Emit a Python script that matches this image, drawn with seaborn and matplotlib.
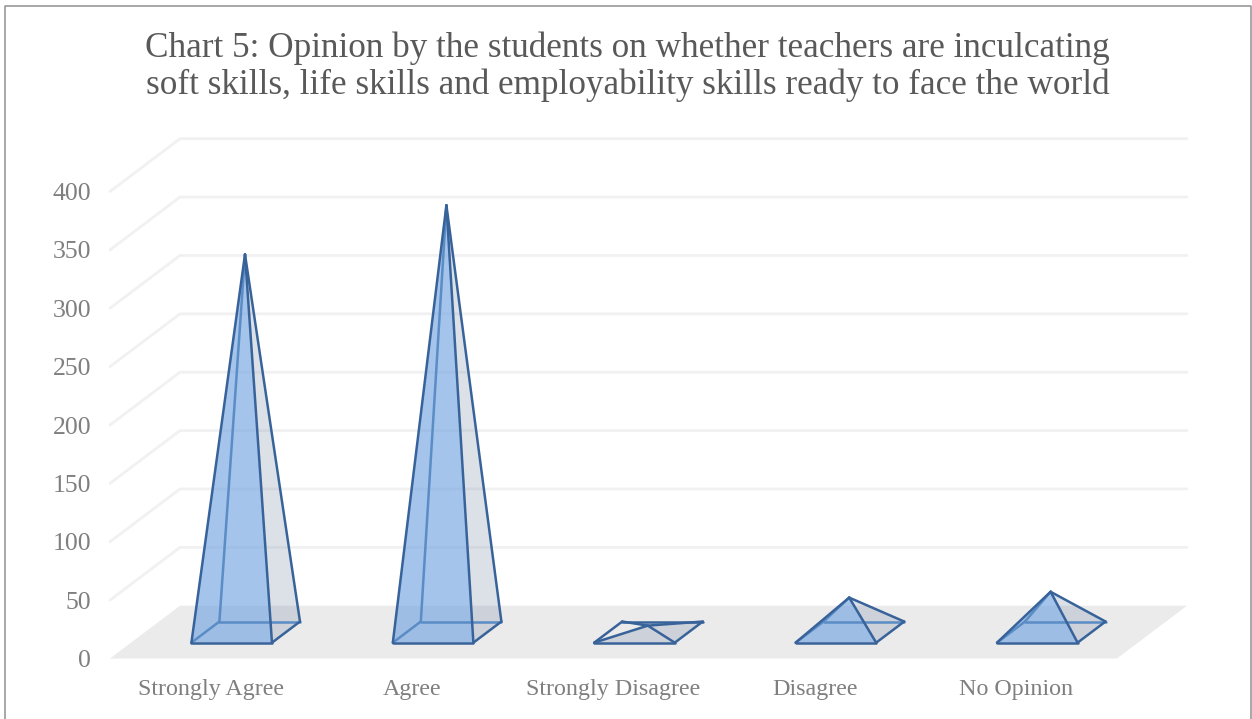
import pandas as pd
import matplotlib.pyplot as plt
import seaborn as sns
from matplotlib.lines import Line2D

# Values
categories = ['Strongly Agree', 'Agree', 'Strongly Disagree', 'Disagree', 'No Opinion']
students = [324, 366, 6, 30, 35]
value_ticks = [0, 50, 100, 150, 200, 250, 300, 350, 400]

title_text = ('Chart 5: Opinion by the students on whether teachers are inculcating\n'
              'soft skills, life skills and employability skills ready to face the world')

# Depth of the fake 3D box, in category and value units
DEPTH_X = 70 / 201.4
DEPTH_Y = 52.8 / 1.1675
HALF_WIDTH = 0.2
FRONT, MIDDLE, BACK = 0.3, 0.49, 0.7


def project(cat, depth, value):
    return cat + depth * DEPTH_X, value + depth * DEPTH_Y


sns.set_theme(style='white')
plt.rcParams['font.family'] = ['Liberation Serif', 'DejaVu Sans']

fig = plt.figure(figsize=(12.52, 7.19), dpi=100)
ax = fig.add_axes([110 / 1252, 1 - 658.5 / 719, 1007 / 1252, 467 / 719])

# Floor
n = len(categories)
floor = [project(-0.5, 0, 0), project(n - 0.5, 0, 0), project(n - 0.5, 1, 0), project(-0.5, 1, 0)]
ax.fill(*zip(*floor), color='#ebebeb', lw=0, zorder=1, clip_on=False)

# Grid lines: side wall then back wall
grid_rows = []
for v in value_ticks[1:]:
    for x, y in [project(-0.5, 0, v), project(-0.5, 1, v), project(n - 0.5, 1, v)]:
        grid_rows.append({'x': x, 'y': y, 'tick': v})
grid = pd.DataFrame(grid_rows)
sns.lineplot(data=grid, x='x', y='y', units='tick', estimator=None, sort=False,
             color='#f1f1f1', linewidth=2.0, zorder=2, ax=ax)

# Pyramids
edge_rows = []
edge_id = 0
for i, v in enumerate(students):
    fl = project(i - HALF_WIDTH, FRONT, 0)
    fr = project(i + HALF_WIDTH, FRONT, 0)
    bl = project(i - HALF_WIDTH, BACK, 0)
    br = project(i + HALF_WIDTH, BACK, 0)
    apex = project(i, MIDDLE, v)
    flat = v < 10

    # right face, then the front face; the flat one looks grey instead of blue
    ax.fill(*zip(fr, br, apex), color='#64789a', alpha=0.22, lw=0, zorder=3, clip_on=False)
    if flat:
        ax.fill(*zip(fl, fr, apex), color='#64789a', alpha=0.22, lw=0, zorder=3, clip_on=False)
    else:
        ax.fill(*zip(fl, fr, apex), color='#76a6e1', alpha=0.66, lw=0, zorder=4, clip_on=False)

    inner = 'outer' if flat else 'hidden'
    for kind, pts in [(inner, [fl, bl]), (inner, [bl, apex]), (inner, [bl, br]),
                      ('outer', [fl, fr]), ('outer', [fr, br]), ('outer', [fl, apex]),
                      ('outer', [fr, apex]), ('outer', [br, apex])]:
        for x, y in pts:
            edge_rows.append({'x': x, 'y': y, 'edge': edge_id, 'kind': kind})
        edge_id += 1

edges = pd.DataFrame(edge_rows)
sns.lineplot(data=edges, x='x', y='y', hue='kind', units='edge', estimator=None, sort=False,
             hue_order=['hidden', 'outer'], palette={'hidden': '#5a8cc6', 'outer': '#38639a'},
             linewidth=1.8, legend=False, zorder=5, ax=ax)

for line in ax.lines:
    line.set_clip_on(False)

ax.set_xlim(-0.5, n - 0.5)
ax.set_ylim(0, 400)
ax.set_xlabel('')
ax.set_ylabel('')
ax.set_xticks(range(n))
ax.set_xticklabels(categories)
ax.set_yticks(value_ticks)
ax.tick_params(axis='x', length=0, pad=15, labelsize=17.3, labelcolor='#7f7f7f')
ax.tick_params(axis='y', length=0, pad=13.5, labelsize=18.5, labelcolor='#7f7f7f')
sns.despine(ax=ax, left=True, bottom=True)

# Chart frame, its bottom edge is cut off in the original
fig.add_artist(Line2D([4.5 / 1252, 4.5 / 1252, 1250.5 / 1252, 1250.5 / 1252],
                      [0, 1 - 5.5 / 719, 1 - 5.5 / 719, 0], color='#8f8f8f', lw=1.1))

fig.text(627.5 / 1252, 1 - 67 / 719, title_text, ha='center', va='center', fontsize=25.3,
         color='#595959', linespacing=1.12)

plt.savefig('out.png', dpi=100)
